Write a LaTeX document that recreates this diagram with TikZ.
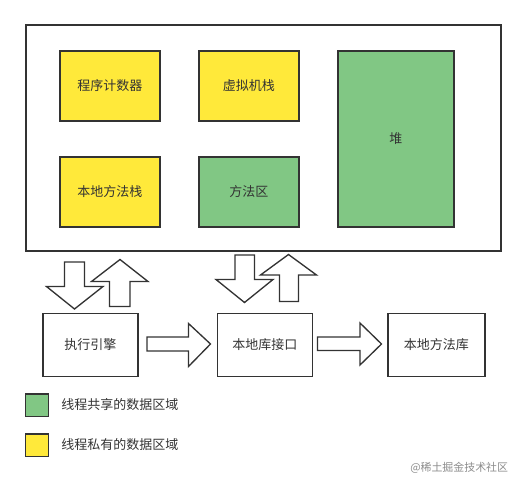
\documentclass[tikz,border=0pt]{standalone}
\usepackage{fontspec}
\setmainfont{Noto Sans CJK SC}
\definecolor{yel}{HTML}{FFE93A}
\definecolor{grn}{HTML}{81C784}
\definecolor{edge}{HTML}{333333}
\definecolor{txt}{HTML}{333333}
\begin{document}
\begin{tikzpicture}[x=0.75pt,y=-0.75pt,
  box/.style={draw=edge,line width=1.2pt,text=txt,font=\fontsize{9.75}{12}\selectfont},
  blk/.style={draw=edge,line width=1pt,fill=white,line join=miter},
  lbl/.style={text=txt,font=\fontsize{9.75}{12}\selectfont,anchor=west,inner sep=0pt}]
\useasboundingbox (0,0) rectangle (525,489);
% outer container
\draw[edge,line width=1.2pt] (26,25) rectangle (501,251);
\node[box,fill=yel,minimum width=75pt,minimum height=52.5pt,anchor=north west] (pc) at (59,50) {程序计数器};
\node[box,fill=yel,minimum width=75pt,minimum height=52.5pt,anchor=north west] (vms) at (198,50) {虚拟机栈};
\node[box,fill=yel,minimum width=75pt,minimum height=52.5pt,anchor=north west] (nms) at (59,156) {本地方法栈};
\node[box,fill=grn,minimum width=75pt,minimum height=52.5pt,anchor=north west] (ma) at (198,156) {方法区};
\node[box,fill=grn,minimum width=87pt,minimum height=132pt,anchor=north west] (heap) at (337,50) {堆};
% bottom boxes
\node[box,fill=white,minimum width=71.25pt,minimum height=47.25pt,anchor=north west] (ee) at (42,312.5) {执行引擎};
\node[box,fill=white,minimum width=71.25pt,minimum height=47.25pt,anchor=north west] (ni) at (216.5,312.5) {本地库接口};
\node[box,fill=white,minimum width=72.75pt,minimum height=47.25pt,anchor=north west] (nl) at (387,312.5) {本地方法库};
% block arrows: down/up pair 1
\draw[blk] (64.5,262) -- (84.5,262) -- (84.5,286.5) -- (103,286.5) -- (74.5,309) -- (46.5,286.5) -- (64.5,286.5) -- cycle;
\draw[blk] (109.5,306.5) -- (130,306.5) -- (130,281.5) -- (148,281.5) -- (120,259.5) -- (91.5,281.5) -- (109.5,281.5) -- cycle;
% pair 2
\draw[blk] (235,255) -- (254.5,255) -- (254.5,279.5) -- (273,279.5) -- (244.5,302.5) -- (216,279.5) -- (235,279.5) -- cycle;
\draw[blk] (279.5,301.5) -- (298.5,301.5) -- (298.5,275) -- (316.5,275) -- (288.5,254.5) -- (260.5,275) -- (279.5,275) -- cycle;
% right arrows
\draw[blk] (147,337) -- (188.5,337) -- (188.5,323.5) -- (210.5,344) -- (188.5,366.5) -- (188.5,351) -- (147,351) -- cycle;
\draw[blk] (317.5,337) -- (360,337) -- (360,323) -- (381.5,344) -- (360,365) -- (360,350.5) -- (317.5,350.5) -- cycle;
% legend
\node[box,fill=grn,minimum width=17.5pt,minimum height=17pt,anchor=north west,inner sep=0pt] (lg) at (24.5,393) {};
\node[box,fill=yel,minimum width=17.5pt,minimum height=17pt,anchor=north west,inner sep=0pt] (ly) at (24.5,433) {};
\node[lbl] (lgt) at (61,405) {线程共享的数据区域};
\node[lbl] (lyt) at (61,445) {线程私有的数据区域};
\node[anchor=west,inner sep=0pt,text=black!45,font=\fontsize{8.2}{10}\selectfont] (wm) at (410,468) {@稀土掘金技术社区};
\end{tikzpicture}
\end{document}
